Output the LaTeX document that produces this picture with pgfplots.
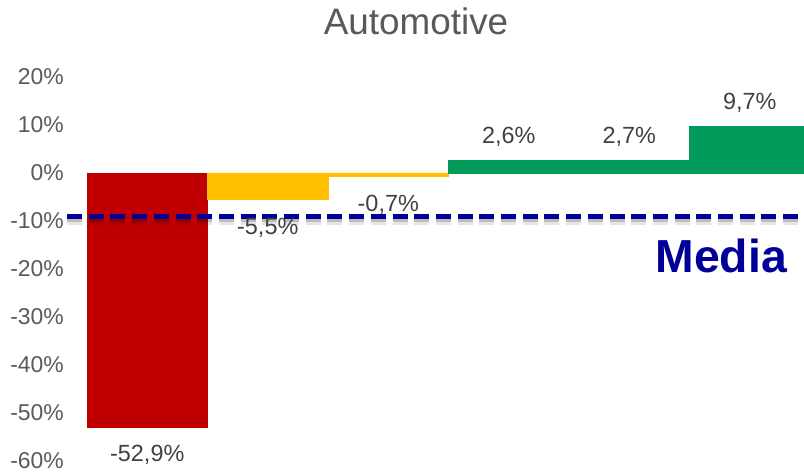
\documentclass[border=0pt]{standalone}
\usepackage{pgfplots}
\pgfplotsset{compat=1.18}
\usepackage{fontspec}
\setmainfont{Liberation Sans}
\definecolor{barred}{HTML}{C00000}
\definecolor{baryel}{HTML}{FFC000}
\definecolor{bargrn}{HTML}{009B5B}
\definecolor{navy}{HTML}{000099}
\definecolor{tickgray}{HTML}{595959}
\definecolor{lblgray}{HTML}{404040}
\begin{document}
\begin{tikzpicture}[x=1bp,y=1bp]
\path[use as bounding box] (0,0) rectangle (804,473);
\begin{axis}[
  at={(87bp,12bp)}, anchor=south west,
  scale only axis, width=717bp, height=384bp,
  xmin=-0.5, xmax=5.45, ymin=-60, ymax=20,
  axis line style={draw=none},
  tick style={draw=none},
  xtick=\empty,
  ytick={-60,-50,...,20},
  yticklabel={\pgfmathprintnumber[assume math mode=true]{\tick}\%},
  yticklabel style={font=\fontsize{23}{27}\selectfont, text=tickgray, anchor=east, inner sep=0pt, xshift=-23bp},
  ybar, bar width=1, bar shift=0pt,
  clip=false,
  nodes near coords={\pgfmathprintnumber[fixed,fixed zerofill,precision=1,use comma,assume math mode=true]{\pgfplotspointmeta}\%},
  nodes near coords style={font=\fontsize{23.5}{27}\selectfont, text=lblgray, anchor=center, inner sep=0pt},
]
\addplot[fill=barred, draw=barred, line width=0.3bp, nodes near coords style={yshift=-28bp}] coordinates {(0,-52.9)};
\addplot[fill=baryel, draw=baryel, line width=0.3bp, nodes near coords style={yshift=-28bp}] coordinates {(1,-5.5) (2,-0.7)};
\addplot[fill=bargrn, draw=bargrn, line width=0.3bp, nodes near coords style={yshift=23.5bp}] coordinates {(3,2.6) (4,2.7) (5,9.7)};
% media line shadow and line
\addplot[sharp plot, no marks, draw=black, opacity=0.10, line width=9bp, dash pattern=on 15bp off 6.7bp, yshift=-4bp, nodes near coords=] coordinates {(-0.666,-9) (5.5,-9)};
\addplot[sharp plot, no marks, draw=black, opacity=0.18, line width=5bp, dash pattern=on 15bp off 6.7bp, yshift=-3bp, nodes near coords=] coordinates {(-0.666,-9) (5.5,-9)};
\addplot[sharp plot, no marks, draw=navy, line width=5bp, dash pattern=on 15bp off 6.7bp, nodes near coords=] coordinates {(-0.666,-9) (5.5,-9)};
\end{axis}
\node[anchor=base, font=\fontsize{37}{42}\selectfont, text=tickgray, inner sep=0pt] at (416,438) {Automotive};
\node[anchor=base east, font=\fontsize{46.5}{52}\selectfont\bfseries, text=navy, inner sep=0pt] at (787,200) {Media};
\end{tikzpicture}
\end{document}
